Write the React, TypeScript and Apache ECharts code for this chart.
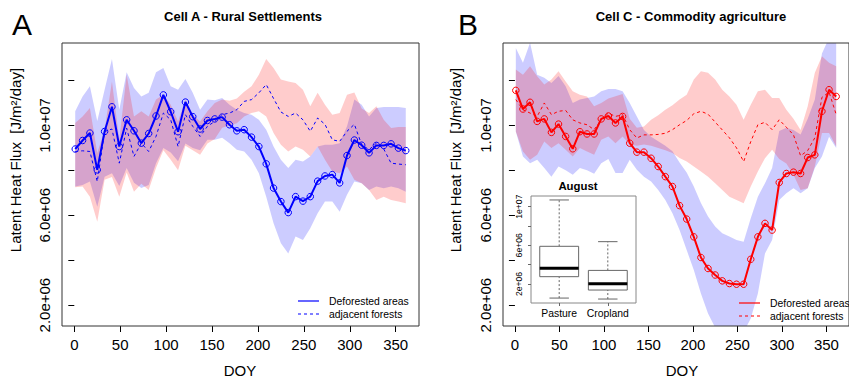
import React, { useEffect, useRef } from 'react';
import * as echarts from 'echarts';

// ---------- data (values in units of 1e6 J/m²/day) ----------
const DOY = [1, 9, 17, 25, 33, 41, 49, 57, 65, 73, 81, 89, 97, 105, 113, 121, 129, 137, 145, 153, 161, 169, 177, 185, 193, 201, 209, 217, 225, 233, 241, 249, 257, 265, 273, 281, 289, 297, 305, 313, 321, 329, 337, 345, 353, 361];

// Cell A - Rural Settlements
const A_DEF = [8.95, 9.33, 9.66, 8.02, 9.73, 10.83, 9.06, 10.25, 9.76, 9.21, 9.64, 10.42, 11.36, 10.61, 9.72, 11.04, 10.39, 9.84, 10.22, 10.29, 10.37, 10.03, 9.76, 9.81, 9.48, 9.06, 8.29, 7.21, 6.61, 6.12, 6.83, 6.63, 6.83, 7.52, 7.75, 7.81, 7.44, 8.66, 9.35, 9.12, 8.78, 9.11, 9.11, 9.18, 8.99, 8.88];
const A_FOR = [8.84, 8.87, 8.84, 7.5, 9.73, 9.84, 8.32, 9.88, 8.62, 9.21, 8.84, 9.51, 10.55, 10.25, 9.06, 10.48, 9.96, 9.51, 9.96, 10.18, 10.48, 10.55, 10.7, 11.07, 11.15, 11.45, 11.82, 11.2, 10.6, 10.4, 10.55, 10.25, 9.74, 10.33, 10.05, 9.36, 9.29, 9.74, 10.05, 9.14, 8.92, 9.21, 8.95, 8.32, 8.28, 8.25];
const A_DEF_UP = [10.63, 11.29, 11.74, 10.2, 11.59, 12.96, 10.7, 12.37, 11.67, 11.29, 11.45, 12.37, 12.56, 11.74, 11.59, 12.07, 11.45, 10.7, 11.15, 11.12, 11.22, 10.92, 10.7, 10.55, 10.48, 10.25, 9.81, 9.06, 8.47, 8.1, 8.47, 8.39, 8.62, 9.06, 9.14, 9.14, 9.21, 9.96, 11.15, 10.92, 10.4, 10.78, 10.82, 10.82, 10.82, 10.78];
const A_DEF_LO = [7.28, 7.35, 7.5, 6.38, 7.72, 7.87, 7.3, 8.1, 7.45, 7.21, 7.35, 8.32, 9.0, 8.8, 8.4, 9.2, 9.0, 8.9, 9.36, 9.36, 9.45, 9.21, 8.92, 8.84, 8.47, 7.87, 6.83, 5.64, 4.75, 4.3, 5.05, 4.9, 5.42, 6.09, 6.61, 6.61, 6.16, 6.91, 7.5, 7.43, 7.13, 7.28, 7.2, 7.28, 7.2, 7.05];
const A_FOR_UP = [10.11, 10.4, 10.78, 8.77, 9.81, 11.96, 9.36, 12.26, 10.4, 10.63, 10.4, 11.15, 11.37, 10.92, 10.18, 11.15, 10.48, 10.18, 10.63, 11.0, 11.15, 11.1, 11.2, 11.5, 11.74, 12.26, 12.96, 12.56, 12.04, 11.96, 11.89, 11.59, 10.85, 11.45, 10.92, 10.48, 10.55, 11.37, 11.47, 10.75, 10.55, 10.85, 10.25, 9.88, 9.93, 9.93];
const A_FOR_LO = [7.25, 7.28, 6.83, 5.71, 7.58, 7.7, 6.83, 7.9, 7.05, 7.4, 7.13, 8.1, 8.9, 8.47, 8.0, 9.1, 8.9, 8.7, 9.2, 9.4, 9.9, 10.0, 10.1, 10.4, 10.55, 10.63, 10.4, 9.66, 9.14, 8.84, 9.06, 8.92, 8.62, 9.06, 8.47, 7.95, 7.87, 8.17, 7.58, 7.43, 7.13, 6.68, 6.83, 6.68, 6.61, 6.54];

// Cell C - Commodity agriculture
const B_DEF = [11.56, 10.73, 11.03, 10.18, 10.29, 9.69, 10.06, 9.51, 8.96, 9.72, 9.62, 9.62, 10.29, 10.42, 10.11, 10.4, 9.21, 8.81, 8.81, 8.54, 8.17, 7.72, 7.28, 6.43, 5.83, 5.04, 4.12, 3.63, 3.34, 3.08, 2.96, 2.93, 2.93, 4.04, 5.04, 5.64, 5.34, 7.46, 7.86, 7.92, 7.86, 8.57, 8.69, 10.63, 11.59, 11.29];
const B_FOR = [11.15, 10.7, 10.55, 10.4, 11.0, 10.48, 10.63, 10.67, 10.25, 10.11, 10.03, 9.81, 10.25, 10.55, 10.4, 10.48, 9.81, 9.44, 9.58, 9.58, 9.6, 9.65, 9.81, 10.03, 10.22, 10.52, 10.63, 10.5, 10.15, 9.8, 9.45, 9.0, 8.39, 9.28, 10.03, 10.14, 9.81, 10.25, 9.92, 9.58, 8.65, 8.88, 9.45, 11.25, 11.48, 10.49];
const B_DEF_UP = [13.45, 12.79, 13.68, 12.26, 12.12, 11.89, 12.2, 11.74, 11.0, 11.15, 11.22, 11.29, 11.52, 11.62, 11.62, 11.52, 11.0, 10.4, 9.8, 9.5, 9.3, 9.1, 8.85, 8.35, 7.9, 7.28, 6.55, 5.94, 5.5, 5.2, 5.05, 4.9, 4.82, 5.87, 6.83, 7.43, 8.1, 9.75, 9.9, 9.8, 9.6, 10.3, 11.15, 13.2, 13.9, 13.8];
const B_DEF_LO = [9.73, 8.62, 8.32, 8.47, 8.1, 7.72, 8.17, 8.0, 7.8, 8.1, 8.0, 7.85, 8.32, 8.5, 7.88, 7.88, 8.47, 8.03, 7.72, 7.5, 7.13, 6.68, 6.09, 5.34, 4.45, 3.56, 2.52, 1.63, 1.0, 0.6, 0.4, 0.5, 0.8, 1.4, 2.52, 4.3, 4.9, 6.68, 6.98, 7.2, 6.98, 7.2, 8.1, 8.62, 9.5, 9.0];
const B_FOR_UP = [12.49, 12.26, 12.63, 12.19, 11.82, 12.04, 12.41, 11.96, 11.52, 11.37, 11.29, 10.85, 11.0, 11.2, 11.3, 11.4, 10.3, 9.9, 9.95, 10.25, 10.45, 10.7, 10.9, 11.15, 11.37, 12.04, 12.41, 12.34, 12.04, 11.59, 11.29, 10.92, 10.25, 10.92, 11.52, 11.59, 11.22, 11.22, 10.7, 10.3, 9.8, 10.85, 12.34, 13.08, 12.79, 12.63];
const B_FOR_LO = [9.73, 8.84, 8.47, 8.69, 9.29, 8.99, 9.21, 8.92, 8.62, 8.99, 8.84, 8.69, 9.36, 9.51, 9.21, 9.51, 9.15, 9.1, 9.15, 9.1, 9.0, 8.9, 8.77, 8.55, 8.39, 8.17, 7.95, 7.72, 7.43, 7.13, 6.83, 6.68, 6.54, 7.28, 7.95, 8.54, 8.92, 8.5, 8.3, 7.8, 7.13, 7.2, 8.17, 9.66, 9.66, 9.06];

// August inset boxplot
const BOX_GROUPS = ['Pasture', 'Cropland'];
const BOX_POS = [1, 2];
const BOX_LOW = [0.55, 0.45];
const BOX_Q1 = [2.76, 1.38];
const BOX_MED = [3.62, 2.03];
const BOX_Q3 = [5.9, 3.41];
const BOX_HIGH = [10.69, 6.38];

// ticks
const X_TICKS = [0, 50, 100, 150, 200, 250, 300, 350];
const Y_TICKS = [2, 4, 6, 8, 10, 12];
const Y_LABELS = [2, 6, 10];
const INSET_Y_TICKS = [2, 4, 6, 8, 10];
const INSET_Y_LABELS = [2, 6, 10];

const FONT = '"Liberation Sans", Arial, Helvetica, sans-serif';

function sci(v: number, digits: number): string {
  const val = v * 1e6;
  const e = Math.floor(Math.log10(val) + 1e-9);
  const m = val / Math.pow(10, e);
  return m.toFixed(digits) + 'e+' + String(e).padStart(2, '0');
}

function bandSeries(lo: number[], up: number[], color: string, idx: number) {
  return {
    type: 'custom', xAxisIndex: idx, yAxisIndex: idx, silent: true, clip: true, z: 1,
    data: DOY.map((d, i) => [d, lo[i], up[i]]),
    encode: { x: 0, y: [1, 2] },
    renderItem: (params: any, api: any) => {
      if (params.dataIndex !== 0) return { type: 'group', children: [] };
      const top = DOY.map((d, i) => api.coord([d, up[i]]));
      const bottom = DOY.map((d, i) => api.coord([d, lo[i]])).reverse();
      return {
        type: 'polygon',
        shape: { points: top.concat(bottom) },
        style: { fill: color, stroke: 'none' },
      };
    },
  };
}

function meanSeries(vals: number[], color: string, idx: number) {
  return {
    type: 'line', xAxisIndex: idx, yAxisIndex: idx, silent: true,
    data: DOY.map((d, i) => [d, vals[i]]),
    symbol: 'circle', symbolSize: 6.5, showAllSymbol: true,
    lineStyle: { color, width: 2 },
    itemStyle: { color: 'rgba(0,0,0,0)', borderColor: color, borderWidth: 1 },
    z: 4,
  };
}

function forestSeries(vals: number[], color: string, idx: number) {
  return {
    type: 'line', xAxisIndex: idx, yAxisIndex: idx, silent: true,
    data: DOY.map((d, i) => [d, vals[i]]), symbol: 'none',
    lineStyle: { color, width: 1, type: [3, 3] },
    z: 3,
  };
}

function mainX(idx: number) {
  return {
    gridIndex: idx, type: 'value', min: -13.4, max: 375.4,
    axisLine: { show: false },
    axisTick: { show: true, customValues: X_TICKS, length: 6, lineStyle: { color: '#000', width: 1 } },
    axisLabel: { customValues: X_TICKS, fontSize: 15, color: '#000', margin: 11, fontFamily: FONT },
    splitLine: { show: false },
  };
}

function mainY(idx: number) {
  return {
    gridIndex: idx, type: 'value', min: 1.07, max: 13.67,
    axisLine: { show: false },
    axisTick: { show: true, customValues: Y_TICKS, length: 6, lineStyle: { color: '#000', width: 1 } },
    axisLabel: {
      customValues: Y_LABELS, fontSize: 15, color: '#000', margin: 10, rotate: 90, fontFamily: FONT,
      formatter: (v: number) => sci(v, 1),
    },
    splitLine: { show: false },
  };
}

function txt(text: string, x: number, y: number, size: number, opts: any = {}) {
  return {
    type: 'text', x, y, rotation: opts.rotation || 0, z: 50,
    style: {
      text, fill: '#000', fontSize: size, fontFamily: FONT, fontWeight: opts.bold ? 'bold' : 'normal',
      align: opts.align || 'center', verticalAlign: 'middle',
      textAlign: opts.align || 'center', textVerticalAlign: 'middle',
    },
  };
}

function lineEl(x1: number, x2: number, y: number, color: string, dashed: boolean) {
  return {
    type: 'line', z: 50,
    shape: { x1, y1: y, x2, y2: y },
    style: { stroke: color, lineWidth: 1.2, lineDash: dashed ? [3, 3] : null },
  };
}

const App: React.FC = () => {
  const ref = useRef<HTMLDivElement>(null);

  useEffect(() => {
    if (!ref.current) return;
    const chart = echarts.init(ref.current, undefined, { renderer: 'svg' });

    const renderBox = (params: any, api: any) => {
      const x = api.value(0);
      const lo = api.coord([x, api.value(1)]);
      const q1 = api.coord([x, api.value(2)]);
      const med = api.coord([x, api.value(3)]);
      const q3 = api.coord([x, api.value(4)]);
      const hi = api.coord([x, api.value(5)]);
      const half = api.size([0.4, 0])[0];
      const cap = api.size([0.2, 0])[0];
      const cx = lo[0];
      const grey = '#666';
      return {
        type: 'group',
        children: [
          { type: 'line', shape: { x1: cx, y1: lo[1], x2: cx, y2: q1[1] }, style: { stroke: grey, lineWidth: 1, lineDash: [2, 2] } },
          { type: 'line', shape: { x1: cx, y1: q3[1], x2: cx, y2: hi[1] }, style: { stroke: grey, lineWidth: 1, lineDash: [2, 2] } },
          { type: 'line', shape: { x1: cx - cap, y1: lo[1], x2: cx + cap, y2: lo[1] }, style: { stroke: grey, lineWidth: 1 } },
          { type: 'line', shape: { x1: cx - cap, y1: hi[1], x2: cx + cap, y2: hi[1] }, style: { stroke: grey, lineWidth: 1 } },
          { type: 'rect', shape: { x: cx - half, y: q3[1], width: 2 * half, height: q1[1] - q3[1] }, style: { fill: '#fff', stroke: grey, lineWidth: 1 } },
          { type: 'line', shape: { x1: cx - half, y1: med[1], x2: cx + half, y2: med[1] }, style: { stroke: '#000', lineWidth: 3 } },
        ],
      };
    };

    const option: any = {
      animation: false,
      backgroundColor: '#fff',
      textStyle: { fontFamily: FONT },
      grid: [
        { left: 62, top: 43, width: 357, height: 283, show: true, borderColor: '#333', borderWidth: 1, backgroundColor: 'transparent', z: 6 },
        { left: 503, top: 43, width: 358, height: 283, show: true, borderColor: '#333', borderWidth: 1, backgroundColor: 'transparent', z: 6 },
        { left: 531, top: 196, width: 105, height: 107, show: true, borderColor: '#888', borderWidth: 1, backgroundColor: '#fff', z: 10 },
      ],
      xAxis: [
        mainX(0),
        mainX(1),
        {
          gridIndex: 2, type: 'value', min: 0.42, max: 2.58, z: 12,
          axisLine: { show: false },
          axisTick: { show: true, customValues: BOX_POS, length: 3, lineStyle: { color: '#666' } },
          axisLabel: {
            customValues: BOX_POS, fontSize: 10.4, color: '#000', margin: 5, fontFamily: FONT,
            formatter: (v: number) => BOX_GROUPS[BOX_POS.indexOf(v)] || '',
          },
          splitLine: { show: false },
        },
      ],
      yAxis: [
        mainY(0),
        mainY(1),
        {
          gridIndex: 2, type: 'value', min: 0.04, max: 11.1, z: 12,
          axisLine: { show: false },
          axisTick: { show: true, customValues: INSET_Y_TICKS, length: 3, lineStyle: { color: '#666' } },
          axisLabel: {
            customValues: INSET_Y_LABELS, fontSize: 8.6, color: '#000', margin: 8, rotate: 90, fontFamily: FONT,
            formatter: (v: number) => sci(v, 0),
          },
          splitLine: { show: false },
        },
      ],
      series: [
        bandSeries(A_DEF_LO, A_DEF_UP, 'rgba(0,0,255,0.2)', 0),
        bandSeries(A_FOR_LO, A_FOR_UP, 'rgba(255,0,0,0.2)', 0),
        forestSeries(A_FOR, '#0000ff', 0),
        meanSeries(A_DEF, '#0000ff', 0),
        bandSeries(B_DEF_LO, B_DEF_UP, 'rgba(0,0,255,0.2)', 1),
        bandSeries(B_FOR_LO, B_FOR_UP, 'rgba(255,0,0,0.2)', 1),
        forestSeries(B_FOR, '#ff0000', 1),
        meanSeries(B_DEF, '#ff0000', 1),
        {
          type: 'custom', xAxisIndex: 2, yAxisIndex: 2, z: 11, silent: true,
          data: BOX_POS.map((p, i) => [p, BOX_LOW[i], BOX_Q1[i], BOX_MED[i], BOX_Q3[i], BOX_HIGH[i]]),
          encode: { x: 0, y: [1, 2, 3, 4, 5] },
          renderItem: renderBox,
        },
      ],
      graphic: [
        txt('A', 22, 24, 30),
        txt('B', 468, 24, 30),
        txt('Cell A - Rural Settlements', 243, 16, 13, { bold: true }),
        txt('Cell C - Commodity agriculture', 691, 16, 13, { bold: true }),
        txt('Latent Heat Flux  [J/m²/day]', 15, 160, 15, { rotation: Math.PI / 2 }),
        txt('Latent Heat Flux  [J/m²/day]', 455, 160, 15, { rotation: Math.PI / 2 }),
        txt('DOY', 240, 370, 15),
        txt('DOY', 682, 370, 15),
        txt('August', 578, 186, 11.4, { bold: true }),
        lineEl(298, 319, 301, '#0000ff', false),
        lineEl(298, 319, 314, '#0000ff', true),
        txt('Deforested areas', 329, 301, 10.4, { align: 'left' }),
        txt('adjacent forests', 329, 314, 10.4, { align: 'left' }),
        lineEl(739, 760, 303, '#ff0000', false),
        lineEl(739, 760, 316, '#ff0000', true),
        txt('Deforested areas', 770, 303, 10.4, { align: 'left' }),
        txt('adjacent forests', 770, 316, 10.4, { align: 'left' }),
      ],
    };

    chart.setOption(option);
    return () => chart.dispose();
  }, []);

  return <div ref={ref} style={{ position: 'fixed', left: 0, top: 0, width: 849, height: 382 }} />;
};

export default App;
